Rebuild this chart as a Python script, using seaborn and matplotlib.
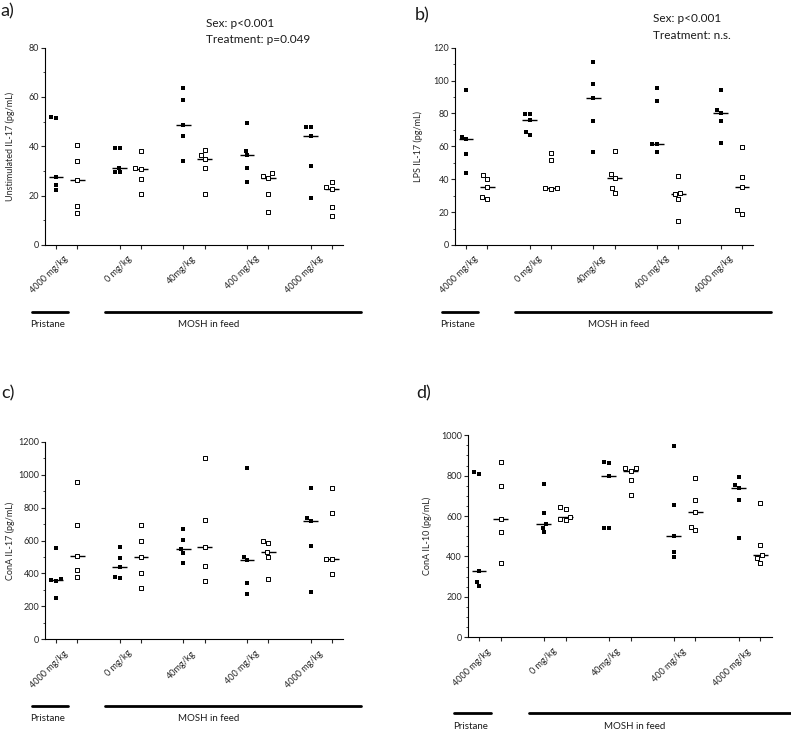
import pandas as pd
import matplotlib.pyplot as plt
import seaborn as sns
from matplotlib.ticker import MultipleLocator

sns.set_style('ticks')
plt.rcParams['font.family'] = ['Lato', 'DejaVu Sans']
plt.rcParams['text.color'] = '#1a1a1a'

# Datos (machos = relleno, hembras = vacio)
doses = ['4000 mg/kg', '0 mg/kg', '40mg/kg', '400 mg/kg', '4000 mg/kg']

unstim_m = [[51.3, 51.7, 27.4, 24.4, 22.3], [39.3, 39.3, 31.3, 29.4, 29.5],
            [63.7, 58.8, 48.6, 44.1, 34.1], [49.3, 38.2, 36.3, 31.4, 25.6],
            [48.0, 47.9, 44.1, 32.0, 19.2]]
unstim_f = [[40.5, 34.0, 26.2, 15.8, 12.8], [38.1, 31.4, 30.6, 26.7, 20.6],
            [38.3, 36.6, 34.7, 31.3, 20.6], [29.0, 28.1, 27.3, 20.6, 13.4],
            [25.4, 23.3, 22.7, 15.4, 11.6]]

lps_m = [[94.4, 65.8, 64.3, 55.3, 43.6], [79.7, 79.8, 76.0, 68.4, 66.8],
         [111.3, 97.8, 89.1, 75.6, 56.7], [95.6, 87.7, 61.3, 61.3, 56.3],
         [94.4, 82.1, 80.5, 75.2, 61.9]]
lps_f = [[42.8, 40.1, 35.1, 29.0, 27.8], [56.1, 51.8, 34.7, 34.3, 34.5],
         [56.9, 43.4, 40.5, 34.9, 31.7], [42.2, 31.9, 30.7, 28.0, 14.7],
         [59.5, 41.1, 35.1, 21.0, 19.0]]

cona17_m = [[552, 366, 356, 362, 253], [560, 492, 441, 378, 370],
            [670, 605, 550, 526, 465], [1040, 502, 480, 344, 277],
            [919, 739, 720, 569, 285]]
cona17_f = [[953, 696, 508, 419, 378], [696, 597, 500, 405, 314],
            [1099, 722, 563, 445, 356], [583, 595, 532, 498, 364],
            [919, 765, 486, 486, 395]]

cona10_m = [[809, 817, 330, 274, 252], [761, 617, 563, 543, 520],
            [863, 866, 800, 543, 543], [947, 657, 502, 424, 396],
            [795, 754, 741, 680, 492]]
cona10_f = [[866, 751, 587, 521, 366], [645, 634, 597, 583, 579],
            [837, 837, 822, 779, 703], [787, 680, 622, 548, 531],
            [667, 457, 406, 391, 368]]


def make_df(male, female):
    rows = []
    for g in range(len(doses)):
        for v in male[g]:
            rows.append({'pos': 3 * g, 'sex': 'M', 'val': v})
        for v in female[g]:
            rows.append({'pos': 3 * g + 1, 'sex': 'F', 'val': v})
    return pd.DataFrame(rows)


def draw(ax, df, ylabel, ymax, major, minor, lab_x, bar_y):
    m = df[df['sex'] == 'M']
    f = df[df['sex'] == 'F']
    sns.swarmplot(data=m, x='pos', y='val', native_scale=True, marker='s',
                  color='black', size=3.4, ax=ax)
    sns.swarmplot(data=f, x='pos', y='val', native_scale=True, marker='s',
                  color='white', edgecolor='black', linewidth=0.7, size=3.4, ax=ax)
    for d in (m, f):
        sns.boxplot(data=d, x='pos', y='val', native_scale=True, width=0.23,
                    showbox=False, showcaps=False, showfliers=False,
                    whiskerprops={'visible': False},
                    medianprops={'color': 'black', 'linewidth': 1}, ax=ax)
    ax.set_xlim(-0.52, 13.52)
    ax.set_ylim(0, ymax)
    ax.yaxis.set_major_locator(MultipleLocator(major))
    ax.yaxis.set_minor_locator(MultipleLocator(minor))
    pos = [p for g in range(len(doses)) for p in (3 * g, 3 * g + 1)]
    ax.set_xticks(pos)
    ax.set_xticklabels([''] * len(pos))
    ax.set_xticks([3 * g + 0.5 for g in range(len(doses))], minor=True)
    ax.set_xticklabels(doses, minor=True, rotation=45, ha='right', va='center',
                       rotation_mode='anchor', fontsize=6.5)
    ax.tick_params(axis='x', which='minor', length=0, pad=9)
    ax.tick_params(axis='x', which='major', length=3, width=0.8)
    ax.tick_params(axis='y', which='major', length=3, width=0.8, labelsize=6.5, pad=1)
    ax.tick_params(axis='y', which='minor', length=1.8, width=0.6)
    ax.set_xlabel('')
    ax.set_ylabel(ylabel, fontsize=6.5)
    ax.yaxis.set_label_coords(lab_x, 0.5)
    sns.despine(ax=ax)
    for s in ('left', 'bottom'):
        ax.spines[s].set_linewidth(0.8)
        ax.spines[s].set_color('black')
    # barras de grupo bajo el eje
    ax.plot([-0.045, 0.077], [bar_y, bar_y], color='black', lw=2,
            transform=ax.transAxes, clip_on=False)
    ax.plot([0.2, 1.062], [bar_y, bar_y], color='black', lw=2,
            transform=ax.transAxes, clip_on=False)
    ax.text(0.01, bar_y - 0.065, 'Pristane', transform=ax.transAxes,
            ha='center', va='center', fontsize=7)
    ax.text(0.55, bar_y - 0.065, 'MOSH in feed', transform=ax.transAxes,
            ha='center', va='center', fontsize=7)


fig = plt.figure(figsize=(7.91, 7.33), dpi=100)
ax_a = fig.add_axes([0.0569, 0.6658, 0.3767, 0.2692])
ax_b = fig.add_axes([0.5752, 0.6658, 0.3767, 0.2692])
ax_c = fig.add_axes([0.0569, 0.1278, 0.3767, 0.2696])
ax_d = fig.add_axes([0.5913, 0.1306, 0.3843, 0.2756])

draw(ax_a, make_df(unstim_m, unstim_f), 'Unstimulated IL-17 (pg/mL)', 80, 20, 10, -0.1, -0.338)
draw(ax_b, make_df(lps_m, lps_f), 'LPS IL-17 (pg/mL)', 120, 20, 10, -0.106, -0.338)
draw(ax_c, make_df(cona17_m, cona17_f), 'ConA IL-17 (pg/mL)', 1200, 200, 100, -0.1, -0.336)
draw(ax_d, make_df(cona10_m, cona10_f), 'ConA IL-10 (pg/mL)', 1000, 200, 50, -0.118, -0.376)

ax_a.text(0.539, 1.12, 'Sex: p<0.001', transform=ax_a.transAxes, va='center', fontsize=8.5)
ax_a.text(0.539, 1.043, 'Treatment: p=0.049', transform=ax_a.transAxes, va='center', fontsize=8.5)
ax_b.text(0.663, 1.147, 'Sex: p<0.001', transform=ax_b.transAxes, va='center', fontsize=8.5)
ax_b.text(0.663, 1.063, 'Treatment: n.s.', transform=ax_b.transAxes, va='center', fontsize=8.5)

fig.text(0.001, 1 - 11 / 733, 'a)', fontsize=13, va='center')
fig.text(415 / 791, 1 - 15 / 733, 'b)', fontsize=13, va='center')
fig.text(0.001, 1 - 393 / 733, 'c)', fontsize=13, va='center')
fig.text(416 / 791, 1 - 393 / 733, 'd)', fontsize=13, va='center')

fig.savefig('out.png', dpi=100)
